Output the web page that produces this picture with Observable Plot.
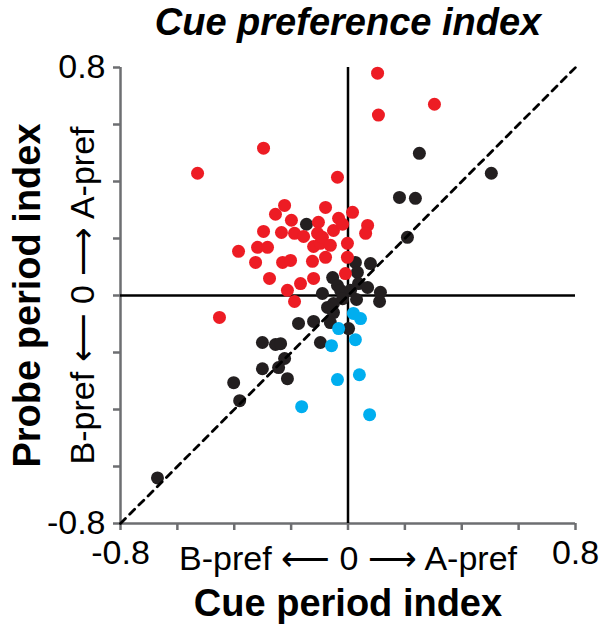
<!DOCTYPE html>
<html><head><meta charset="utf-8">
<script src="https://cdn.jsdelivr.net/npm/d3@7"></script>
<script src="https://cdn.jsdelivr.net/npm/@observablehq/plot@0.6"></script>
<style>body{margin:0;background:#fff} svg{display:block}</style>
</head><body><div id="chart"></div>
<script>
// Cue period index (x) vs Probe period index (y)
const redPoints = [
  [0.104,0.780],[0.107,0.633],[0.304,0.671],[-0.297,0.517],[-0.529,0.429],[-0.037,0.415],
  [-0.452,-0.077],[-0.223,0.316],[-0.255,0.285],[-0.079,0.309],[-0.199,0.264],[-0.104,0.257],
  [-0.033,0.271],[0.016,0.292],[-0.297,0.225],[-0.234,0.221],[-0.188,0.218],[-0.156,0.207],
  [-0.107,0.218],[-0.051,0.228],[-0.019,0.250],[0.069,0.246],[0.062,0.218],[-0.385,0.155],
  [-0.318,0.169],[-0.283,0.169],[-0.325,0.116],[-0.230,0.116],[-0.202,0.123],[-0.121,0.172],
  [-0.097,0.183],[-0.002,0.183],[-0.079,0.134],[-0.125,0.120],[-0.002,0.134],[-0.009,0.077],
  [-0.276,0.060],[-0.167,0.042],[-0.121,0.060],[-0.213,0.018],[-0.188,-0.021],[-0.090,0.204],
  [-0.062,0.176]
];
const blackPoints = [
  [0.251,0.499],[0.504,0.429],[0.181,0.344],[0.237,0.341],[0.209,0.204],[-0.146,0.250],
  [0.079,0.112],[0.026,0.116],[0.033,0.081],[-0.054,0.063],[-0.037,0.035],[-0.090,0.007],
  [-0.026,0.018],[0.009,0.018],[0.037,0.042],[0.069,0.028],[0.114,0.011],[0.111,-0.021],
  [0.030,-0.014],[-0.051,-0.028],[-0.051,-0.060],[-0.072,-0.042],[-0.062,-0.095],[0.002,-0.116],
  [-0.121,-0.091],[-0.174,-0.098],[-0.097,-0.165],[-0.301,-0.165],[-0.255,-0.172],[-0.237,-0.169],
  [-0.223,-0.221],[-0.301,-0.257],[-0.244,-0.253],[-0.213,-0.292],[-0.402,-0.306],[-0.381,-0.369],
  [-0.670,-0.640],[-0.019,-0.011]
];
const bluePoints = [
  [0.019,-0.063],[0.044,-0.081],[-0.033,-0.116],[0.026,-0.155],[-0.058,-0.176],
  [0.040,-0.278],[-0.037,-0.295],[-0.163,-0.390],[0.076,-0.418]
];
const axisTicks = [-0.8,-0.6,-0.4,-0.2,0,0.2,0.4,0.6,0.8];
const axisTickLabels = ["-0.8","","","","","","","","0.8"];
const identityLine = [-0.8, 0.8];
const titleText = "Cue preference index";
const xLabel = "Cue period index";
const yLabel = "Probe period index";
const directionText = "B-pref \u27F5 0 \u27F6 A-pref";

const FONT = "'Liberation Sans', Arial, Helvetica, sans-serif";
const GRAY = "#6d6e71";

const chart = Plot.plot({
  width: 600,
  height: 631,
  marginLeft: 120,
  marginRight: 25,
  marginTop: 67,
  marginBottom: 108,
  style: {fontFamily: FONT, background: "#fff", color: "#000"},
  x: {domain: [-0.8, 0.8]},
  y: {domain: [-0.8, 0.8]},
  marks: [
    Plot.ruleX([-0.8], {stroke: GRAY, strokeWidth: 2.5}),
    Plot.ruleY([-0.8], {stroke: GRAY, strokeWidth: 2.5}),
    Plot.axisX({ticks: axisTicks, tickSize: 7, stroke: GRAY, strokeWidth: 2.5,
      tickFormat: (d, i) => axisTickLabels[i], fontSize: 34, tickPadding: 9, label: null}),
    Plot.axisY({ticks: axisTicks, tickSize: 7, stroke: GRAY, strokeWidth: 2.5,
      tickFormat: (d, i) => axisTickLabels[i], fontSize: 34, tickPadding: 8, label: null}),
    Plot.ruleX([0], {stroke: "#000", strokeWidth: 2.5}),
    Plot.ruleY([0], {stroke: "#000", strokeWidth: 2.5}),
    Plot.dot(blackPoints, {x: d => d[0], y: d => d[1], r: 6.5, fill: "#231f20"}),
    Plot.dot(bluePoints, {x: d => d[0], y: d => d[1], r: 6.5, fill: "#00aeef"}),
    Plot.dot(redPoints, {x: d => d[0], y: d => d[1], r: 6.5, fill: "#ed1c24"}),
    Plot.line(identityLine, {x: d => d, y: d => d, stroke: "#000", strokeWidth: 2.8, strokeDasharray: "7,6"}),
    Plot.text([titleText], {x: 0, frameAnchor: "top", lineAnchor: "middle", textAnchor: "middle", dy: -45,
      text: d => d, fontSize: 38, fontWeight: "bold", fontStyle: "italic", fill: "#000"}),
    Plot.text([directionText], {x: 0, frameAnchor: "bottom", lineAnchor: "middle", textAnchor: "middle", dy: 36,
      text: d => d, fontSize: 34, fill: "#000"}),
    Plot.text([xLabel], {x: 0, frameAnchor: "bottom", lineAnchor: "middle", textAnchor: "middle", dy: 80,
      text: d => d, fontSize: 38, fontWeight: "bold", fill: "#000"}),
    Plot.text([directionText], {y: 0, frameAnchor: "left", lineAnchor: "middle", textAnchor: "middle", dx: -37, rotate: -90,
      text: d => d, fontSize: 34, fill: "#000"}),
    Plot.text([yLabel], {y: 0, frameAnchor: "left", lineAnchor: "middle", textAnchor: "middle", dx: -93, rotate: -90,
      text: d => d, fontSize: 38, fontWeight: "bold", fill: "#000"})
  ]
});
document.getElementById("chart").append(chart);
</script></body></html>
